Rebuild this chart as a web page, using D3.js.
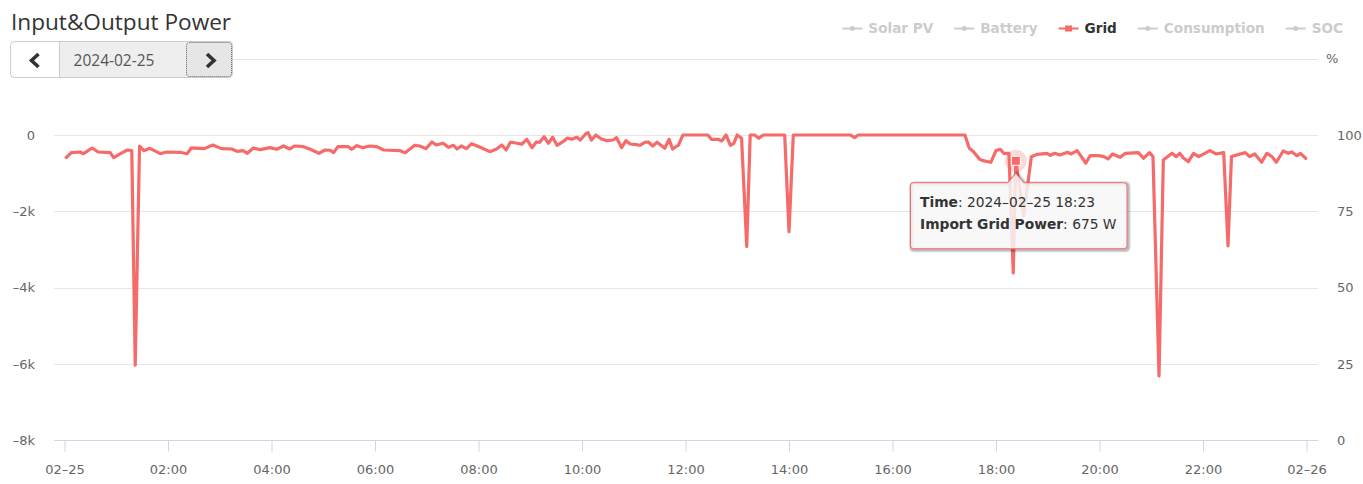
<!DOCTYPE html>
<html>
<head>
<meta charset="utf-8">
<script src="https://cdn.jsdelivr.net/npm/d3@7"></script>
<style>
  body { margin: 0; background: #fff; }
  svg { display: block; }
</style>
</head>
<body>
<svg id="chart" width="1363" height="484"></svg>
<script>
// ---- data ----
const day = "2024-02-25";
const nextDay = "2024-02-26";

const times = [
  "00:02","00:08","00:18","00:22","00:32","00:39","00:53","00:57","01:07","01:13",
  "01:18","01:22","01:27","01:32","01:39","01:51","01:58","02:14","02:22","02:27",
  "02:42","02:52","03:02","03:14","03:20","03:27","03:32","03:39","03:47","03:58",
  "04:06","04:14","04:21","04:27","04:37","04:45","04:55","05:02","05:08","05:12",
  "05:17","05:29","05:33","05:39","05:46","05:54","06:02","06:10","06:29","06:35",
  "06:46","06:52","06:59","07:06","07:11","07:19","07:25","07:31","07:35","07:40",
  "07:46","07:52","08:02","08:13","08:21","08:27","08:32","08:37","08:45","08:50",
  "08:56","09:02","09:07","09:11","09:16","09:21","09:26","09:31","09:38","09:43",
  "09:48","09:54","09:58","10:05","10:07","10:11","10:16","10:22","10:29","10:36",
  "10:40","10:46","10:51","10:56","11:03","11:07","11:13","11:17","11:22","11:27",
  "11:36","11:41","11:45","11:52","11:57","12:26","12:30","12:38","12:42","12:47",
  "12:52","12:56","13:00","13:05","13:11","13:15","13:20","13:25","13:30","13:55",
  "14:00","14:05","15:11","15:16","15:20","17:24","17:29","17:34","17:41","17:45",
  "17:54","18:00","18:05","18:09","18:15","18:20","18:23","18:32","18:41","18:48",
  "18:59","19:03","19:08","19:14","19:23","19:27","19:34","19:39","19:44","19:49",
  "19:59","20:05","20:10","20:15","20:24","20:30","20:45","20:51","20:58","21:02",
  "21:09","21:14","21:18","21:24","21:29","21:33","21:37","21:43","21:49","21:55",
  "22:08","22:15","22:24","22:29","22:33","22:39","22:49","22:54","23:00","23:08",
  "23:14","23:20","23:25","23:33","23:39","23:43","23:49","23:53","23:57","23:59"
];

const gridW = [
  -590,-460,-445,-490,-340,-445,-463,-594,-463,-393,
  -410,-6030,-288,-410,-349,-490,-445,-453,-490,-340,
  -358,-262,-358,-367,-427,-410,-480,-340,-385,-332,
  -375,-288,-367,-288,-306,-375,-480,-393,-400,-463,
  -306,-306,-375,-280,-332,-288,-306,-393,-410,-463,
  -270,-288,-358,-183,-262,-218,-322,-270,-367,-288,
  -358,-228,-322,-437,-367,-262,-393,-191,-217,-243,
  -113,-332,-183,-191,-45,-217,-60,-270,-175,-79,
  -113,-60,-131,45,60,-131,0,-97,-149,-131,
  -71,-332,-149,-236,-254,-270,-191,-183,-288,-191,
  -349,-113,-367,-262,0,0,-113,-113,-157,0,
  -270,-217,0,-87,-2920,0,0,-87,0,0,
  -2530,0,0,-70,0,0,-349,-437,-636,-672,
  -715,-410,-375,-480,-480,-3610,-675,-2120,-567,-506,
  -480,-532,-480,-524,-454,-497,-410,-567,-740,-542,
  -542,-567,-628,-497,-584,-480,-463,-610,-463,-567,
  -6310,-655,-584,-480,-567,-480,-594,-700,-480,-567,
  -410,-497,-463,-2905,-567,-524,-463,-567,-497,-715,
  -480,-567,-715,-419,-480,-445,-542,-480,-567,-610
];

const legendNames = ["Solar PV", "Battery", "Grid", "Consumption", "SOC"];
const legendActive = [false, false, true, false, false];

const leftTicks = [0, -2000, -4000, -6000, -8000];
const gridTicks = [2000, 0, -2000, -4000, -6000];
const rightTicks = [0, 25, 50, 75, 100];
const xTickHours = [0, 2, 4, 6, 8, 10, 12, 14, 16, 18, 20, 22, 24];

const hoverTime = "18:23";

// ---- setup ----
const svg = d3.select("#chart");
const RED = "#f66a6a";
const FONT = "'DejaVu Sans', Verdana, sans-serif";
const plotL = 54, plotR = 1318;

const parse = d3.timeParse("%Y-%m-%d %H:%M");
const t0 = parse(day + " 00:00"), t1 = parse(nextDay + " 00:00");

const data = times.map((t, i) => ({ time: t, t: parse(day + " " + t), v: gridW[i] }));

const x = d3.scaleTime().domain([t0, t1]).range([64.5, 1306.5]);
const y = d3.scaleLinear().domain([-8000, 2000]).range([440.5, 58.6]);
const yR = d3.scaleLinear().domain([0, 125]).range([440.5, 58.6]);

// gridlines
svg.append("g").selectAll("line")
  .data(gridTicks)
  .join("line")
  .attr("x1", plotL).attr("x2", plotR)
  .attr("y1", d => Math.round(y(d)) + 0.5).attr("y2", d => Math.round(y(d)) + 0.5)
  .attr("stroke", "#e6e6e6");

// left axis labels
const kfmt = v => v === 0 ? "0" : "\u2013" + Math.abs(v) / 1000 + "k";
svg.append("g").selectAll("text")
  .data(leftTicks)
  .join("text")
  .attr("x", 35).attr("y", d => y(d))
  .attr("dy", "0.35em")
  .attr("text-anchor", "end")
  .attr("font-family", FONT).attr("font-size", 13).attr("fill", "#666")
  .text(kfmt);

// right axis labels
svg.append("g").selectAll("text")
  .data(rightTicks)
  .join("text")
  .attr("x", 1337).attr("y", d => yR(d))
  .attr("dy", "0.35em")
  .attr("font-family", FONT).attr("font-size", 13).attr("fill", "#666")
  .text(d => d);
svg.append("text")
  .attr("x", 1326).attr("y", yR(125)).attr("dy", "0.35em")
  .attr("font-family", FONT).attr("font-size", 13).attr("fill", "#666")
  .text("%");

// x axis
const xTicks = xTickHours.map(h => d3.timeHour.offset(t0, h));
const xfmt = d => (d.getHours() === 0) ? d3.timeFormat("%m\u2013%d")(d) : d3.timeFormat("%H:%M")(d);
const xAxis = svg.append("g")
  .attr("transform", "translate(0,440.5)")
  .call(d3.axisBottom(x).tickValues(xTicks).tickFormat(xfmt).tickSize(11).tickSizeOuter(0).tickPadding(13));
xAxis.select(".domain").remove();
xAxis.selectAll(".tick line").attr("stroke", "#ccd6eb");
xAxis.selectAll(".tick text").attr("font-family", FONT).attr("font-size", 13).attr("fill", "#666");
svg.append("line")
  .attr("x1", plotL).attr("x2", plotR)
  .attr("y1", 440.5).attr("y2", 440.5)
  .attr("stroke", "#ccd6eb");

// series line
const line = d3.line().x(d => x(d.t)).y(d => y(d.v));
svg.append("path")
  .datum(data)
  .attr("d", line)
  .attr("fill", "none")
  .attr("stroke", RED)
  .attr("stroke-width", 3.2)
  .attr("stroke-linejoin", "round")
  .attr("stroke-linecap", "round");

// hover marker
const hp = data.find(d => d.time === hoverTime);
const hx = x(hp.t), hy = y(hp.v);
svg.append("circle")
  .attr("cx", hx).attr("cy", hy).attr("r", 11)
  .attr("fill", RED).attr("opacity", 0.25);
svg.append("rect")
  .attr("x", hx - 4.5).attr("y", hy - 4.5)
  .attr("width", 9).attr("height", 9)
  .attr("fill", RED).attr("stroke", "#fff").attr("stroke-width", 1);

// tooltip
const tip = svg.append("g");
const tipTop = hy + 21.5, tipH = 66;
const tipText = tip.append("g").attr("font-family", FONT).attr("font-size", 13.8).attr("fill", "#333");
const l1 = tipText.append("text").attr("y", tipTop + 24.5);
l1.append("tspan").attr("font-weight", "bold").text("Time");
l1.append("tspan").text(": " + day.replace(/-/g, "\u2013") + " " + hoverTime);
const l2 = tipText.append("text").attr("y", tipTop + 47);
l2.append("tspan").attr("font-weight", "bold").text("Import Grid Power");
l2.append("tspan").text(": " + Math.abs(hp.v) + " W");
const tw = Math.max(l1.node().getComputedTextLength(), l2.node().getComputedTextLength());
const tipW = tw + 20;
const bx0 = Math.round(hx - tipW / 2 + 2) + 0.5, bx1 = bx0 + tipW, by0 = tipTop + 0.5, by1 = by0 + tipH;
tipText.selectAll("text").attr("x", bx0 + 9.5);
const r = 3, ax = hx;
const tipPath = `M${bx0 + r},${by0} L${ax - 8},${by0} L${ax},${by0 - 9.5} L${ax + 8},${by0} L${bx1 - r},${by0}
  Q${bx1},${by0} ${bx1},${by0 + r} L${bx1},${by1 - r} Q${bx1},${by1} ${bx1 - r},${by1}
  L${bx0 + r},${by1} Q${bx0},${by1} ${bx0},${by1 - r} L${bx0},${by0 + r} Q${bx0},${by0} ${bx0 + r},${by0} Z`;
[3, 2, 1].forEach(w => {
  tip.insert("path", "g")
    .attr("d", tipPath)
    .attr("transform", "translate(1,1)")
    .attr("fill", "none")
    .attr("stroke", "#000")
    .attr("stroke-opacity", 0.05 * w)
    .attr("stroke-width", w * 2 - 1);
});
tip.insert("path", "g")
  .attr("d", tipPath)
  .attr("fill", "rgba(247,247,247,0.85)")
  .attr("stroke", RED)
  .attr("stroke-width", 1);

// title
svg.append("text")
  .attr("x", 11).attr("y", 29.5)
  .attr("font-family", "'Open Sans', sans-serif").attr("font-size", 22.6).attr("fill", "#333")
  .text("Input&Output Power");

// date picker
const pk = svg.append("g");
pk.append("defs").append("clipPath").attr("id", "pkclip")
  .append("rect").attr("x", 10.5).attr("y", 41.5).attr("width", 222).attr("height", 36).attr("rx", 4);
const pkIn = pk.append("g").attr("clip-path", "url(#pkclip)");
pkIn.append("rect").attr("x", 10).attr("y", 41).attr("width", 49).attr("height", 37).attr("fill", "#fff");
pkIn.append("rect").attr("x", 59).attr("y", 41).attr("width", 127).attr("height", 37).attr("fill", "#eee");
pkIn.append("rect").attr("x", 186).attr("y", 41).attr("width", 47).attr("height", 37).attr("fill", "#e6e6e6");
pk.append("rect").attr("x", 10.5).attr("y", 41.5).attr("width", 222).attr("height", 36).attr("rx", 4)
  .attr("fill", "none").attr("stroke", "#ccc");
pk.append("line").attr("x1", 59.5).attr("x2", 59.5).attr("y1", 42).attr("y2", 77).attr("stroke", "#ccc");
pk.append("rect").attr("x", 186.5).attr("y", 42.5).attr("width", 45).attr("height", 34).attr("rx", 3)
  .attr("fill", "none").attr("stroke", "#666").attr("stroke-dasharray", "1,1");
pk.append("path").attr("d", "M38.5,54 L31.5,60.5 L38.5,67")
  .attr("fill", "none").attr("stroke", "#333").attr("stroke-width", 3.6);
pk.append("path").attr("d", "M207,54 L214,60.5 L207,67")
  .attr("fill", "none").attr("stroke", "#333").attr("stroke-width", 3.6);
pk.append("text")
  .attr("x", 114).attr("y", 66)
  .attr("text-anchor", "middle")
  .attr("font-family", "'Open Sans', sans-serif").attr("font-size", 15.5).attr("fill", "#555")
  .text(day);

// legend, laid out right to left so it ends where the reference ends
const lg = svg.append("g").attr("font-family", FONT).attr("font-size", 13.6).attr("font-weight", "bold");
const items = legendNames.map((name, i) => {
  const on = legendActive[i];
  const g = lg.append("g");
  const c = on ? RED : "#ccc";
  g.append("line")
    .attr("x1", 0).attr("x2", 20).attr("y1", 28.5).attr("y2", 28.5)
    .attr("stroke", c).attr("stroke-width", 2);
  if (on) {
    g.append("rect").attr("x", 6.5).attr("y", 25.5).attr("width", 7).attr("height", 6).attr("fill", c);
  } else {
    g.append("circle").attr("cx", 10).attr("cy", 28.5).attr("r", 2.5).attr("fill", c);
  }
  const t = g.append("text")
    .attr("x", 26).attr("y", 33)
    .attr("fill", on ? "#333" : "#ccc")
    .text(name);
  return { g, w: 26 + t.node().getComputedTextLength() };
});
let rx = 1343;
for (let i = items.length - 1; i >= 0; i--) {
  rx -= items[i].w;
  items[i].g.attr("transform", `translate(${rx},0)`);
  rx -= 21;
}
</script>
</body>
</html>
